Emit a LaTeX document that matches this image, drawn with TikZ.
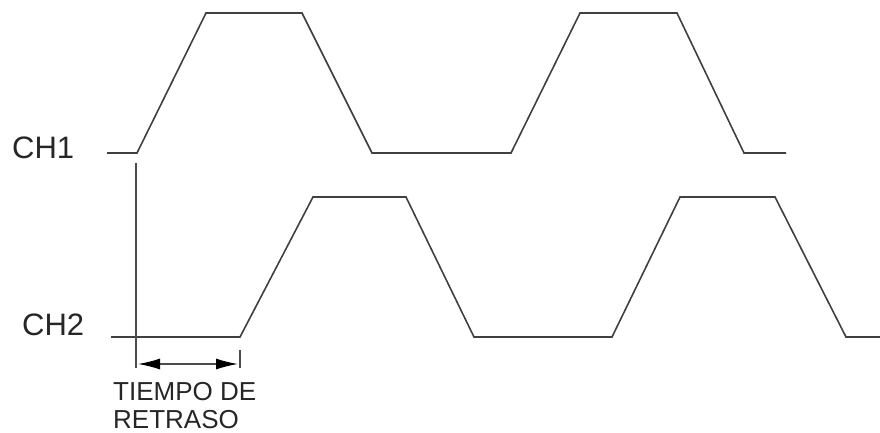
\documentclass[tikz,border=0pt]{standalone}
\usepackage{fontspec}
\setmainfont{Liberation Sans}
\usetikzlibrary{arrows.meta}
\begin{document}
\begin{tikzpicture}[x=1pt,y=-1pt,
  wave/.style={line width=1.6pt,draw=black!75,line join=miter},
  dim/.style={line width=1.4pt,draw=black!70},
  dimarrow/.style={{Latex[length=22pt,width=11pt,fill=black,color=black]}-{Latex[length=22pt,width=11pt,fill=black,color=black]}},
  lbl/.style={inner sep=0pt,anchor=base west,font=\fontsize{31}{31}\selectfont,text=black!85},
  note/.style={inner sep=0pt,anchor=base west,font=\fontsize{26}{28}\selectfont,text=black!85}]
\useasboundingbox (0,0) rectangle (880,432);
% CH1
\draw[wave] (107,153) -- (137,153) -- (206,13) -- (302,13) -- (372,153) -- (511,153)
  -- (580,13) -- (677,13) -- (744,153) -- (786,153);
% CH2
\draw[wave] (111,337) -- (240,337) -- (313,197) -- (406,197) -- (474,337) -- (612,337)
  -- (680,197) -- (775,197) -- (846,337) -- (880,337);
% labels
\node[lbl] (ch1) at (12,158) {CH1};
\node[lbl] (ch2) at (22,335) {CH2};
% delay marker
\coordinate (va) at (136,163);
\coordinate (vb) at (136,368);
\coordinate (ta) at (240,350);
\coordinate (tb) at (240,368);
\coordinate (aa) at (138,364);
\coordinate (ab) at (238,364);
\draw[dim] (va) -- (vb);
\draw[dim] (ta) -- (tb);
\draw[dim,dimarrow] (aa) -- (ab);
\node[note] (t1) at (113,400) {TIEMPO DE};
\node[note] (t2) at (113,428) {RETRASO};
\end{tikzpicture}
\end{document}
